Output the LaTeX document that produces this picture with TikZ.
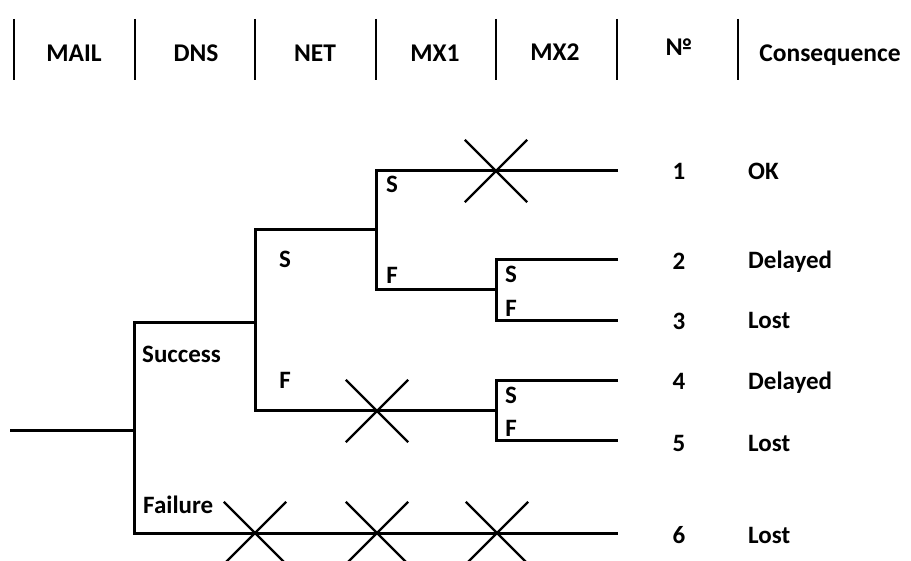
\documentclass[tikz,border=0pt]{standalone}
\usepackage{fontspec}
\setmainfont{Carlito}
\usetikzlibrary{shapes.misc}
\begin{document}
\begin{tikzpicture}[x=1pt,y=-1pt,
  tree/.style={line width=3pt, line join=miter},
  sep/.style={line width=2.8pt},
  xmark/.style={draw, cross out, line width=2.4pt, minimum width=60pt, minimum height=60pt, inner sep=0pt},
  hdr/.style={font=\fontsize{25.5}{28}\selectfont\bfseries, anchor=base, inner sep=0pt},
  lbl/.style={font=\fontsize{25}{28}\selectfont\bfseries, anchor=base, inner sep=0pt},
  lbll/.style={lbl, anchor=base west},
  cons/.style={lbl, anchor=base west}]
\useasboundingbox (0,0) rectangle (911,561);
\clip (0,0) rectangle (911,561);
% header separators
\foreach \i/\x in {1/14,2/135,3/255,4/376,5/496,6/617,7/738}{
  \coordinate (s\i t) at (\x,19);
  \coordinate (s\i b) at (\x,80);
  \draw[sep] (s\i t) -- (s\i b);
}
\node[hdr] (hmail) at (74,62) {MAIL};
\node[hdr] (hdns) at (196,62) {DNS};
\node[hdr] (hnet) at (315,62) {NET};
\node[hdr] (hmx1) at (435,62) {MX1};
\node[hdr] (hmx2) at (555,61) {MX2};
\node[hdr] (hno) at (679,56) {№};
\node[hdr] (hcons) at (830,62) {Consequence};
% tree points
\coordinate (r0) at (10,431);
\coordinate (r) at (134,431);
\coordinate (rs) at (134,323);
\coordinate (rf) at (134,533);
\coordinate (d) at (255,323);
\coordinate (ds) at (255,230);
\coordinate (df) at (255,411);
\coordinate (n) at (376,230);
\coordinate (ns) at (376,171);
\coordinate (nf) at (376,290);
\coordinate (e1) at (618,171);
\coordinate (m) at (496,290);
\coordinate (ms) at (496,260);
\coordinate (mf) at (496,321);
\coordinate (e2) at (618,260);
\coordinate (e3) at (618,321);
\coordinate (k) at (496,411);
\coordinate (ks) at (496,381);
\coordinate (kf) at (496,441);
\coordinate (e4) at (618,381);
\coordinate (e5) at (618,441);
\coordinate (e6) at (618,533);
\draw[tree] (r0) -- (r);
\draw[tree] (d) -- (rs) -- (rf) -- (e6);
\draw[tree] (n) -- (ds) -- (df) -- (k);
\draw[tree] (e1) -- (ns) -- (nf) -- (m);
\draw[tree] (e2) -- (ms) -- (mf) -- (e3);
\draw[tree] (e4) -- (ks) -- (kf) -- (e5);
% crosses
\node[xmark] (x1) at (496,171) {};
\node[xmark] (x2) at (377,411) {};
\node[xmark] (x3) at (255,533) {};
\node[xmark] (x4) at (377,533) {};
\node[xmark] (x5) at (497,533) {};
% branch labels
\node[lbll] (lsucc) at (142,363) {Success};
\node[lbll] (lfail) at (143,513) {Failure};
\node[lbl] (ldS) at (285,268) {S};
\node[lbl] (ldF) at (285,389) {F};
\node[lbl] (lnS) at (392,193) {S};
\node[lbl] (lnF) at (392,284) {F};
\node[lbl] (lmS) at (511,283) {S};
\node[lbl] (lmF) at (511,317) {F};
\node[lbl] (lkS) at (511,404) {S};
\node[lbl] (lkF) at (511,436) {F};
% outcomes
\node[lbl] (o1) at (679,180) {1};
\node[lbl] (o2) at (679,270) {2};
\node[lbl] (o3) at (679,330) {3};
\node[lbl] (o4) at (679,390) {4};
\node[lbl] (o5) at (679,451) {5};
\node[lbl] (o6) at (679,543) {6};
\node[cons] (c1) at (748,180) {OK};
\node[cons] (c2) at (748,269) {Delayed};
\node[cons] (c3) at (748,329) {Lost};
\node[cons] (c4) at (748,390) {Delayed};
\node[cons] (c5) at (748,451) {Lost};
\node[cons] (c6) at (748,543) {Lost};
\end{tikzpicture}
\end{document}
